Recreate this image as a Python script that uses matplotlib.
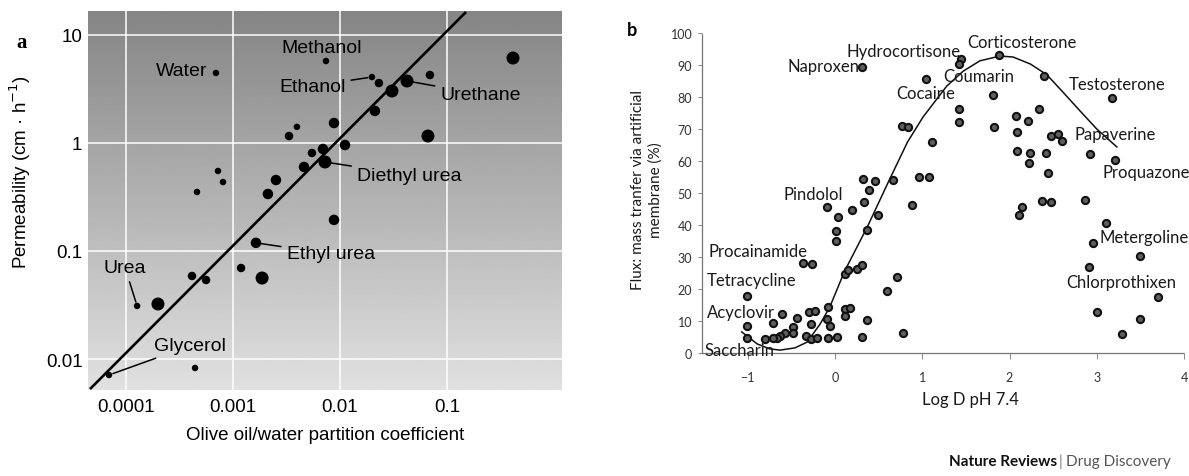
import matplotlib
matplotlib.use("Agg")
import matplotlib.pyplot as plt
import numpy as np

W, H = 1189, 477

# ---- panel a : permeability vs olive oil/water partition ----
oil_water = [6.93e-4, 7.40e-3, 0.0199, 0.0231, 0.0423, 0.0306, 0.0693, 0.414,
             0.0212, 8.79e-3, 3.96e-3, 3.34e-3, 0.0664, 0.01114, 6.93e-3, 5.47e-3,
             7.24e-3, 4.61e-3, 2.52e-3, 7.24e-4, 8.07e-4, 4.61e-4, 2.12e-3, 8.79e-3,
             1.64e-3, 1.19e-3, 1.87e-3, 4.14e-4, 5.60e-4, 1.27e-4, 1.99e-4, 6.93e-5, 4.42e-4]
permeability = [4.45, 5.74, 4.08, 3.59, 3.75, 3.03, 4.26, 6.12,
                1.98, 1.53, 1.41, 1.16, 1.16, 0.958, 0.880, 0.808,
                0.667, 0.600, 0.454, 0.551, 0.435, 0.352, 0.337, 0.194,
                0.119, 0.0696, 0.0562, 0.0587, 0.0539, 0.0310, 0.0323, 0.00711, 0.00826]
size_group = [1, 1, 1, 2, 4, 4, 2, 4, 3, 3, 1, 2, 4, 3, 3, 2,
              4, 3, 3, 1, 1, 1, 3, 3, 3, 2, 4, 2, 2, 1, 4, 1, 1]
fit_x = [4.61e-5, 0.1507]
fit_y = [0.00527, 16.33]
a_xticks = [1e-4, 1e-3, 1e-2, 1e-1]
a_xlabels = ["0.0001", "0.001", "0.01", "0.1"]
a_yticks = [0.01, 0.1, 1, 10]
a_ylabels = ["0.01", "0.1", "1", "10"]

# ---- panel b : flux vs log D ----
logd = [0.31, 1.44, 1.42, 1.88, 2.39, 1.04, 1.81, 3.18, 1.42, 1.42,
        2.34, 2.08, 2.21, 0.77, 0.84, 1.82, 2.09, 2.48, 2.55, 2.60,
        1.11, 2.92, 3.21, 2.09, 2.24, 2.22, 2.42, 2.44, 0.67, 0.96,
        1.08, 0.32, 0.46, 0.39, 0.33, 0.19, -0.09, 0.03, 0.49, 0.88,
        0.01, 0.01, 0.37, 2.14, 2.11, 2.37, 2.48, 2.87, 3.11, 2.96,
        3.50, 2.91, 0.71, 0.60, 3.70, 3.00, 3.50, 0.78, 3.29, -0.37,
        -0.26, 0.11, 0.15, 0.25, 0.31, -1.01, -1.01, -1.01, -0.61, -0.71,
        -0.44, -0.30, -0.23, -0.28, -0.08, 0.11, 0.17, 0.11, -0.09, -0.06,
        0.37, -0.48, -0.48, -0.57, -0.63, -0.67, -0.80, -0.71, -0.33, -0.28,
        -0.21, -0.08, 0.02, 0.31]
flux = [89.4, 91.9, 90.3, 93.1, 86.6, 85.6, 80.6, 79.7, 76.3, 72.2,
        76.3, 74.1, 72.5, 70.9, 70.6, 70.6, 69.1, 67.8, 68.4, 66.3,
        65.9, 62.2, 60.3, 63.1, 62.5, 59.4, 62.5, 56.3, 54.1, 55.0,
        55.0, 54.4, 53.8, 50.9, 47.2, 44.7, 45.6, 42.5, 43.1, 46.3,
        38.1, 35.0, 38.4, 45.6, 43.1, 47.5, 47.2, 47.8, 40.6, 34.4,
        30.3, 26.9, 23.8, 19.4, 17.5, 12.8, 10.6, 6.3, 5.9, 28.1,
        27.8, 24.7, 25.9, 26.3, 27.5, 17.8, 8.4, 4.7, 12.2, 9.4,
        10.9, 12.8, 13.1, 9.1, 14.4, 13.8, 14.1, 11.6, 10.6, 8.4,
        10.3, 8.1, 6.3, 6.3, 5.3, 4.7, 4.4, 4.7, 5.3, 4.4,
        4.7, 4.7, 5.0, 5.0]
curve_x = [-1.07, -0.89, -0.75, -0.63, -0.46, -0.32, -0.17, -0.06, 0.11, 0.37,
           0.60, 0.83, 1.01, 1.28, 1.47, 1.66, 1.89, 2.04, 2.24, 2.43,
           2.61, 2.81, 3.00, 3.23]
curve_y = [6.6, 2.8, 1.3, 0.9, 1.6, 3.4, 9.1, 14.4, 25.6, 39.4,
           52.8, 65.9, 73.8, 83.4, 88.1, 91.3, 92.8, 92.5, 90.3, 86.9,
           81.6, 75.6, 70.0, 64.4]
b_names = ["Naproxen", "Hydrocortisone", "Corticosterone", "Coumarin", "Cocaine",
           "Testosterone", "Papaverine", "Proquazone", "Pindolol", "Procainamide",
           "Tetracycline", "Acyclovir", "Saccharin", "Metergoline", "Chlorprothixen"]


def px(x, y):
    return x / W, 1 - y / H


fig = plt.figure(figsize=(W / 100, H / 100), dpi=100)

# panel a
pos_a = [88 / W, 1 - 391 / H, (562 - 88) / W, (391 - 12) / H]
ax_bg = fig.add_axes(pos_a, zorder=0)
grad = np.linspace(0.52, 0.88, 256).reshape(-1, 1)
ax_bg.imshow(grad, cmap="gray", vmin=0, vmax=1, aspect="auto", extent=[0, 1, 0, 1])
ax_bg.axis("off")

ax = fig.add_axes(pos_a, zorder=1)
ax.patch.set_alpha(0)
ax.set_xscale("log")
ax.set_yscale("log")
ax.set_xlim(10 ** -4.355, 10 ** 0.075)
ax.set_ylim(10 ** -2.287, 10 ** 1.222)
ax.set_xticks(a_xticks)
ax.set_xticklabels(a_xlabels)
ax.set_yticks(a_yticks)
ax.set_yticklabels(a_ylabels)
ax.minorticks_off()
ax.grid(True, color="white", lw=1.1)
ax.set_axisbelow(True)
for s in ax.spines.values():
    s.set_visible(False)
ax.tick_params(length=0, labelsize=13.5, pad=6)
ax.tick_params(axis="y", pad=4)
for t in ax.get_xticklabels() + ax.get_yticklabels():
    t.set_fontfamily("Liberation Sans")

size_px = {1: 6.5, 2: 8.5, 3: 10.5, 4: 13.0}
sizes = [(size_px[g] * 0.72) ** 2 for g in size_group]
ax.plot(fit_x, fit_y, color="black", lw=1.9, zorder=3, solid_capstyle="butt")
ax.scatter(oil_water, permeability, s=sizes, color="black", zorder=4, lw=0)

fa = dict(fontsize=14, family="Liberation Sans", color="black")
line = dict(arrowstyle="-", color="black", lw=1.1, shrinkA=2, shrinkB=3)
ax.annotate("Water", (oil_water[0], permeability[0]), xytext=(-6, 1.5),
            textcoords="offset points", ha="right", va="center", **fa)
ax.annotate("Methanol", (oil_water[1], permeability[1]), xytext=(-3, 10),
            textcoords="offset points", ha="center", va="center", **fa)
ax.annotate("Ethanol", (oil_water[2], permeability[2]), xytext=(-19, -6.5),
            textcoords="offset points", ha="right", va="center", arrowprops=line, **fa)
ax.annotate("Urethane", (oil_water[4], permeability[4]), xytext=(24, -9.4),
            textcoords="offset points", ha="left", va="center", arrowprops=line, **fa)
ax.annotate("Diethyl urea", (oil_water[16], permeability[16]), xytext=(23, -9.4),
            textcoords="offset points", ha="left", va="center", arrowprops=line, **fa)
ax.annotate("Ethyl urea", (oil_water[24], permeability[24]), xytext=(22, -8),
            textcoords="offset points", ha="left", va="center", arrowprops=line, **fa)
ax.annotate("Urea", (oil_water[29], permeability[29]), xytext=(-8.6, 27.4),
            textcoords="offset points", ha="center", va="center", arrowprops=line, **fa)
ax.annotate("Glycerol", (oil_water[31], permeability[31]), xytext=(32.4, 20.9),
            textcoords="offset points", ha="left", va="center", arrowprops=line, **fa)

fig.text(*px(20, 172), "Permeability (cm · h$^{-1}$)", rotation=90, ha="center",
         va="center", fontsize=13.5, family="Liberation Sans")
fig.text(*px(325, 436), "Olive oil/water partition coefficient", ha="center",
         va="center", fontsize=13.5, family="Liberation Sans")
fig.text(*px(22, 43), "a", ha="center", va="center", fontsize=15,
         family="Liberation Serif", weight="bold")

# panel b
pos_b = [702 / W, 1 - 354 / H, (1184 - 702) / W, (354 - 34) / H]
bx = fig.add_axes(pos_b)
bx.set_xlim(-1.525, 4.0)
bx.set_ylim(0, 100)
bx.set_xticks([-1, 0, 1, 2, 3, 4])
bx.set_xticklabels(["\u22121", "0", "1", "2", "3", "4"])
bx.set_yticks(range(0, 101, 10))
for side in ["top", "right"]:
    bx.spines[side].set_visible(False)
for side in ["left", "bottom"]:
    bx.spines[side].set_color("#777777")
    bx.spines[side].set_linewidth(0.9)
    bx.spines[side].set_linestyle((0, (1, 1)))
bx.tick_params(axis="y", length=3, width=0.7, color="#888888", pad=4,
               labelsize=9, labelcolor="#333333")
bx.tick_params(axis="x", length=4, width=0.7, color="#888888", pad=9,
               labelsize=9, labelcolor="#333333")
for t in bx.get_xticklabels() + bx.get_yticklabels():
    t.set_fontfamily("Lato")

bx.plot(curve_x, curve_y, color="#111111", lw=1.1, zorder=2, clip_on=False)
bx.scatter(logd, flux, s=27, facecolor="#5e5e5e", edgecolor="#111111",
           linewidths=1.5, zorder=3, clip_on=False)

label_pos = {
    "Naproxen": (0.275, 89.7, "right"),
    "Hydrocortisone": (0.126, 94.4, "left"),
    "Corticosterone": (1.514, 97.2, "left"),
    "Coumarin": (1.239, 86.6, "left"),
    "Cocaine": (0.70, 81.2, "left"),
    "Testosterone": (2.683, 84.1, "left"),
    "Papaverine": (2.741, 68.4, "left"),
    "Proquazone": (3.062, 56.6, "left"),
    "Pindolol": (-0.596, 49.7, "left"),
    "Procainamide": (-1.445, 31.9, "left"),
    "Tetracycline": (-1.468, 22.8, "left"),
    "Acyclovir": (-1.468, 12.8, "left"),
    "Saccharin": (-1.502, 0.9, "left"),
    "Metergoline": (3.028, 36.3, "left"),
    "Chlorprothixen": (2.649, 22.2, "left"),
}
for name in b_names:
    x, y, ha = label_pos[name]
    bx.text(x, y, name, ha=ha, va="center", fontsize=12, family="Lato",
            color="#1a1a1a", zorder=4, clip_on=False)

fig.text(*px(647, 190), "Flux: mass tranfer via artificial\nmembrane (%)",
         rotation=90, ha="center", va="center", fontsize=11, family="Lato",
         color="#1a1a1a", linespacing=1.35)
fig.text(*px(970, 400), "Log D pH 7.4", ha="center", va="center",
         fontsize=12, family="Lato", color="#1a1a1a")
fig.text(*px(632, 30), "b", ha="center", va="center", fontsize=13,
         family="Lato", weight="bold")

fig.text(*px(1057, 462), "Nature Reviews", ha="right", va="center",
         fontsize=11, family="Lato", weight="bold", color="#111111")
fig.text(*px(1061, 462), "|", ha="center", va="center",
         fontsize=11, family="Lato", color="#777777")
fig.text(*px(1066, 462), "Drug Discovery", ha="left", va="center",
         fontsize=11, family="Lato", color="#555555")

fig.savefig("out.png", dpi=100)
